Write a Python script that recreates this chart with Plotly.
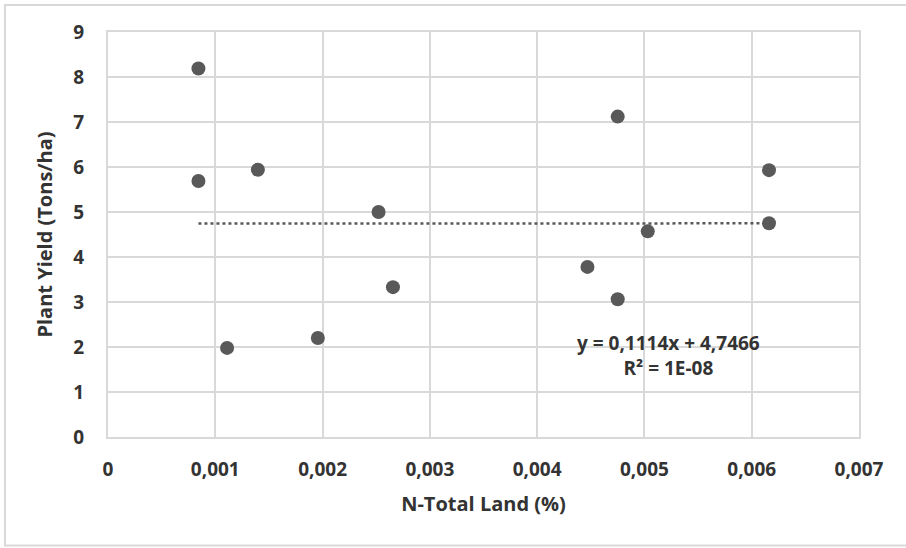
import plotly.graph_objects as go

# Data
n_total = [0.000843, 0.000843, 0.00111, 0.001397, 0.001956, 0.002522, 0.002656,
           0.004469, 0.004751, 0.004751, 0.005031, 0.006161, 0.006161]
plant_yield = [8.19, 5.69, 1.98, 5.94, 2.20, 5.00, 3.33,
               3.78, 7.12, 3.06, 4.57, 5.93, 4.75]

# Linear trendline reported in the chart
trend_slope = 0.1114
trend_intercept = 4.7466
trend_label = "y = 0,1114x + 4,7466<br>R² = 1E-08"

x_tick_vals = [0, 0.001, 0.002, 0.003, 0.004, 0.005, 0.006, 0.007]
x_tick_labels = ["0", "0,001", "0,002", "0,003", "0,004", "0,005", "0,006", "0,007"]
y_tick_vals = [0, 1, 2, 3, 4, 5, 6, 7, 8, 9]

x_title = "N-Total Land (%)"
y_title = "Plant Yield (Tons/ha)"

trend_x = [min(n_total), max(n_total)]
trend_y = [trend_slope * v + trend_intercept for v in trend_x]

DARK = "#595959"
GRID = "#d9d9d9"
TXT = "#333333"
FONT = "Open Sans"

fig = go.Figure()
fig.add_trace(go.Scatter(
    x=trend_x, y=trend_y, mode="lines",
    line=dict(color=DARK, width=2.5, dash="dot"),
    hoverinfo="skip", showlegend=False,
))
fig.add_trace(go.Scatter(
    x=n_total, y=plant_yield, mode="markers",
    marker=dict(color=DARK, size=14),
    showlegend=False,
))

fig.add_annotation(
    x=0.00522, y=1.82, xref="x", yref="y",
    text=trend_label, showarrow=False, align="center",
    font=dict(family=FONT, size=19, color=TXT, weight="bold"),
)

# outer chart border (left, top, bottom edges; right edge runs off the picture)
bx0, bx1, by0, by1 = -0.1372, 1.0626, -0.268, 1.0667
fig.add_shape(
    type="path", xref="paper", yref="paper",
    path=f"M {bx1} {by1} L {bx0} {by1} L {bx0} {by0} L {bx1} {by0}",
    line=dict(color=GRID, width=2), layer="below",
)

fig.update_layout(
    width=906, height=548,
    margin=dict(l=108, r=47, t=32, b=111),
    paper_bgcolor="white", plot_bgcolor="white",
    font=dict(family=FONT, color=TXT),
    showlegend=False,
)
fig.update_xaxes(
    range=[0, 0.007], tickvals=x_tick_vals, ticktext=x_tick_labels,
    showgrid=True, gridcolor=GRID, gridwidth=1.5,
    showline=True, linecolor=GRID, linewidth=2, mirror=True,
    zeroline=False, ticks="", ticklabelstandoff=14,
    tickfont=dict(family=FONT, size=19, color=TXT, weight="bold"),
    title=dict(text=x_title, font=dict(family=FONT, size=20, color=TXT, weight="bold"), standoff=16),
)
fig.update_yaxes(
    range=[0, 9], tickvals=y_tick_vals,
    showgrid=True, gridcolor=GRID, gridwidth=1.5,
    showline=True, linecolor=GRID, linewidth=2, mirror=True,
    zeroline=False, ticks="", ticklabelstandoff=18,
    tickfont=dict(family=FONT, size=19, color=TXT, weight="bold"),
    title=dict(text=y_title, font=dict(family=FONT, size=20, color=TXT, weight="bold"), standoff=15),
)

fig.write_html("out.html", config={"displayModeBar": False},
               post_script="document.body.style.margin='0';")
